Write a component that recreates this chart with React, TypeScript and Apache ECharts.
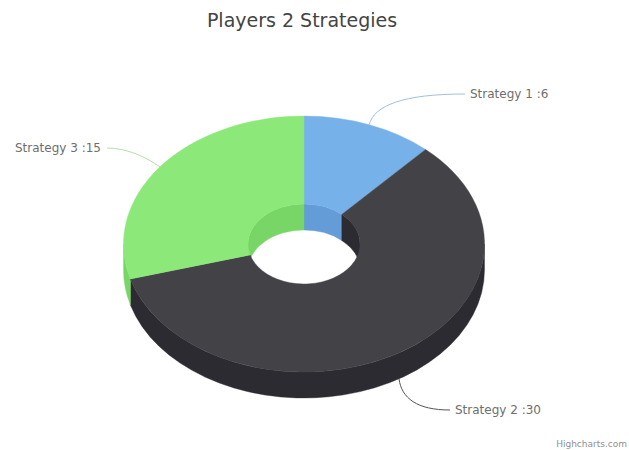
import React, { useEffect, useRef } from "react";
import * as echarts from "echarts";

const chartTitle = "Players 2 Strategies";
const creditText = "Highcharts.com";
const strategyNames = ["Strategy 1", "Strategy 2", "Strategy 3"];
const strategyValues = [6, 30, 15];
const faceColors = ["#76b1ea", "#424247", "#8ce878"];
const wallColors = ["#639cd6", "#2c2b32", "#78d666"];
const connectorColors = ["#a3bfdc", "#55555a", "#b9dcb0"];

// Projected ring geometry, in pixels.
const CX = 304;
const CY = 244;
const OUTER = { rx: 180.5, ry: 128 };
const INNER = { rx: 56, ry: 40 };
const DEPTH = 26;

// Where each label sits relative to the chart: [x, y, text alignment].
const labelSpots: [number, number, "left" | "right"][] = [
  [470, 94, "left"],
  [455, 410, "left"],
  [101, 148, "right"],
];
// Connector curvature per label: [first control x, first control y, second control x].
const connectorBends = [
  [0.05, 0.62, 0.35],
  [0.05, 0.62, 0.35],
  [0.25, 0.5, 0.62],
];

const total = strategyValues.reduce((a, b) => a + b, 0);
const sliceRange = (i: number): [number, number] => {
  const before = strategyValues.slice(0, i).reduce((a, b) => a + b, 0);
  return [(before / total) * 360, ((before + strategyValues[i]) / total) * 360];
};

// Angles run clockwise from twelve o'clock.
const point = (e: { rx: number; ry: number }, deg: number, dy = 0) => {
  const r = (deg * Math.PI) / 180;
  return [CX + e.rx * Math.sin(r), CY - e.ry * Math.cos(r) + dy];
};
const arcTo = (e: { rx: number; ry: number }, from: number, to: number, dy = 0) => {
  const [x, y] = point(e, to, dy);
  const large = Math.abs(to - from) > 180 ? 1 : 0;
  const sweep = to > from ? 1 : 0;
  return `A ${e.rx} ${e.ry} 0 ${large} ${sweep} ${x} ${y}`;
};

const facePath = (s: number, e: number) => {
  const [ox, oy] = point(OUTER, s);
  const [ix, iy] = point(INNER, e);
  return `M ${ox} ${oy} ${arcTo(OUTER, s, e)} L ${ix} ${iy} ${arcTo(INNER, e, s)} Z`;
};

const bandPath = (ell: { rx: number; ry: number }, s: number, e: number) => {
  const [ax, ay] = point(ell, s);
  const [bx, by] = point(ell, e, DEPTH);
  return `M ${ax} ${ay} ${arcTo(ell, s, e)} L ${bx} ${by} ${arcTo(ell, e, s, DEPTH)} Z`;
};

const clip = (s: number, e: number, lo: number, hi: number): [number, number] | null => {
  const a = Math.max(s, lo);
  const b = Math.min(e, hi);
  return b > a ? [a, b] : null;
};

const pathEl = (d: string, color: string) => ({
  type: "path",
  shape: { pathData: d },
  style: { fill: color, stroke: color, lineWidth: 0.4 },
});

const renderWalls = (params: any) => {
  const i = params.dataIndex;
  const [s, e] = sliceRange(i);
  const parts = [
    clip(s, e, 90, 270) && { ell: OUTER, r: clip(s, e, 90, 270)! },
    clip(s, e, 0, 90) && { ell: INNER, r: clip(s, e, 0, 90)! },
    clip(s, e, 270, 360) && { ell: INNER, r: clip(s, e, 270, 360)! },
  ].filter(Boolean) as { ell: typeof OUTER; r: [number, number] }[];
  return {
    type: "group",
    children: parts.map((p) => pathEl(bandPath(p.ell, p.r[0], p.r[1]), wallColors[i])),
  };
};

const renderFaces = (params: any) => {
  const i = params.dataIndex;
  const [s, e] = sliceRange(i);
  return pathEl(facePath(s, e), faceColors[i]);
};

const renderLabels = (params: any, api: any) => {
  const i = params.dataIndex;
  const [s, e] = sliceRange(i);
  const mid = (s + e) / 2;
  const near = mid > 90 && mid < 270;
  const [ax, ay] = point(OUTER, mid, near ? DEPTH : 0);
  const [lx, ly, align] = labelSpots[i];
  const [b1x, b1y, b2x] = connectorBends[i];
  const endX = align === "left" ? lx - 5 : lx + 6;
  const c1x = ax + (endX - ax) * b1x;
  const c1y = ay + (ly - ay) * b1y;
  const c2x = ax + (endX - ax) * b2x;
  const line = `M ${ax} ${ay} C ${c1x} ${c1y} ${c2x} ${ly} ${endX} ${ly}`;
  return {
    type: "group",
    children: [
      {
        type: "path",
        shape: { pathData: line },
        style: { fill: "none", stroke: connectorColors[i], lineWidth: 1 },
      },
      {
        type: "text",
        x: lx,
        y: ly,
        style: {
          text: `${strategyNames[i]} :${api.value(0)}`,
          x: 0,
          y: 0,
          fill: "#6e6e6e",
          font: '12px "DejaVu Sans"',
          align,
          verticalAlign: "middle",
        },
      },
    ],
  };
};

export default function App() {
  const ref = useRef<HTMLDivElement>(null);

  useEffect(() => {
    const chart = echarts.init(ref.current!, undefined, { renderer: "svg" });
    const seriesData = strategyValues.map((value, i) => ({ name: strategyNames[i], value }));
    const layer = (name: string, z: number, renderItem: any) => ({
      type: "custom",
      name,
      coordinateSystem: "none",
      z,
      silent: true,
      data: seriesData,
      renderItem,
    });
    chart.setOption({
      animation: false,
      backgroundColor: "#ffffff",
      title: {
        text: chartTitle,
        left: 297,
        top: 5,
        textAlign: "center",
        textStyle: { fontFamily: "DejaVu Sans", fontSize: 19, fontWeight: "normal", color: "#444444" },
      },
      series: [
        layer("walls", 1, renderWalls),
        layer("faces", 2, renderFaces),
        layer("labels", 3, renderLabels),
      ],
      graphic: [
        {
          type: "text",
          right: 2,
          top: 439,
          style: { text: creditText, fill: "#909090", font: '9px "DejaVu Sans"' },
        },
      ],
    });
    return () => chart.dispose();
  }, []);

  return <div ref={ref} style={{ position: "absolute", left: 0, top: 0, width: 629, height: 450 }} />;
}
